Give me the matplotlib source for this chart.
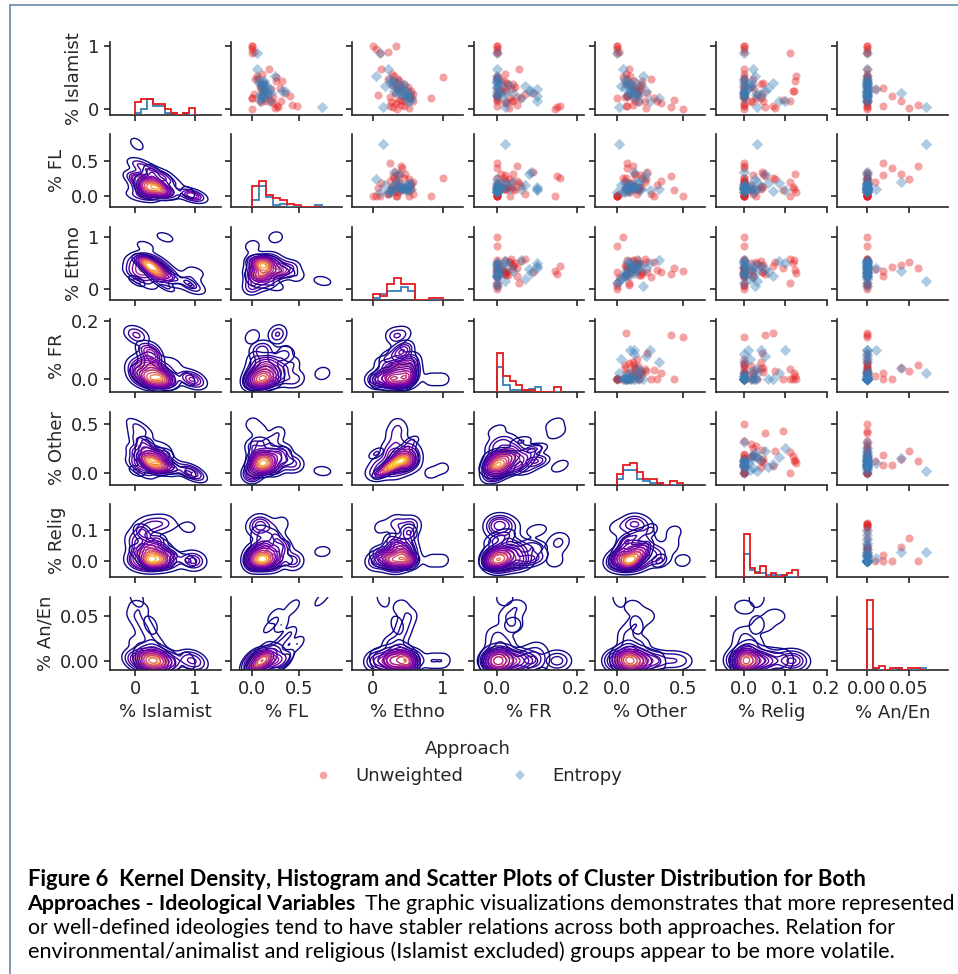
import numpy as np
import matplotlib
matplotlib.use("Agg")
import matplotlib.pyplot as plt
import seaborn as sns
from matplotlib.lines import Line2D

# ---------------- data (cluster shares per ideology) ----------------
variables = ["% Islamist", "% FL", "% Ethno", "% FR", "% Other", "% Relig", "% An/En"]
approaches = ["Unweighted", "Entropy"]

# Unweighted approach (46 clusters)
unw_islamist = [1.00, 1.00, 0.95, 0.91, 0.89, 0.50, 0.17, 0.31, 0.33, 0.20, 0.13, 0.05, 0.02, 0.07, 0.12, 0.27,
                0.22, 0.09, 0.36, 0.18, 0.04, 0.03, 0.00, 0.52, 0.29, 0.28, 0.13, 0.15, 0.45, 0.42, 0.47, 0.40,
                0.44, 0.48, 0.56, 0.63, 0.35, 0.38, 0.24, 0.26, 0.21, 0.17, 0.19, 0.11, 0.23, 0.32]
unw_fl = [0.00, 0.00, 0.00, 0.02, 0.00, 0.25, 0.00, 0.20, 0.30, 0.40, 0.31, 0.48, 0.24, 0.43, 0.15, 0.12,
          0.10, 0.22, 0.09, 0.14, 0.26, 0.28, 0.00, 0.05, 0.10, 0.12, 0.20, 0.08, 0.32, 0.13, 0.06, 0.09,
          0.25, 0.03, 0.10, 0.18, 0.08, 0.12, 0.02, 0.35, 0.17, 0.00, 0.22, 0.09, 0.11, 0.13]
unw_ethno = [0.00, 0.33, 0.05, 0.22, 0.11, 1.00, 0.83, 0.38, 0.35, 0.42, 0.46, 0.25, 0.52, 0.40, 0.36, 0.44,
             0.48, 0.33, 0.41, 0.53, 0.45, 0.29, 0.35, 0.30, 0.55, 0.50, 0.58, 0.40, 0.37, 0.33, 0.36, 0.45,
             0.31, 0.22, 0.28, 0.12, 0.50, 0.27, 0.58, 0.32, 0.55, 0.52, 0.24, 0.26, 0.08, 0.38]
unw_fr = [0.000, 0.000, 0.000, 0.000, 0.000, 0.000, 0.000, 0.010, 0.020, 0.000, 0.040, 0.000, 0.030, 0.050,
          0.000, 0.010, 0.000, 0.020, 0.000, 0.060, 0.158, 0.150, 0.145, 0.000, 0.020, 0.000, 0.035, 0.000,
          0.010, 0.025, 0.000, 0.040, 0.018, 0.000, 0.020, 0.055, 0.045, 0.028, 0.070, 0.090, 0.000, 0.033,
          0.050, 0.022, 0.000, 0.038]
unw_other = [0.00, 0.00, 0.00, 0.02, 0.00, 0.05, 0.00, 0.12, 0.18, 0.08, 0.14, 0.08, 0.22, 0.12, 0.30, 0.15,
             0.16, 0.33, 0.10, 0.12, 0.07, 0.41, 0.50, 0.10, 0.12, 0.17, 0.21, 0.43, 0.13, 0.11, 0.08, 0.06,
             0.19, 0.26, 0.07, 0.09, 0.16, 0.18, 0.15, 0.23, 0.08, 0.28, 0.06, 0.17, 0.09, 0.14]
unw_relig = [0.000, 0.000, 0.000, 0.000, 0.110, 0.000, 0.000, 0.000, 0.020, 0.000, 0.045, 0.000, 0.075, 0.000,
             0.015, 0.000, 0.030, 0.000, 0.000, 0.040, 0.070, 0.049, 0.000, 0.125, 0.120, 0.118, 0.110, 0.095,
             0.122, 0.045, 0.000, 0.040, 0.000, 0.020, 0.000, 0.000, 0.015, 0.000, 0.000, 0.042, 0.000, 0.028,
             0.000, 0.018, 0.000, 0.000]
unw_anen = [0.000, 0.000, 0.000, 0.000, 0.000, 0.000, 0.000, 0.010, 0.019, 0.030, 0.040, 0.019, 0.050, 0.060,
            0.000, 0.000, 0.000, 0.000, 0.000, 0.000, 0.000, 0.000, 0.000, 0.000, 0.000, 0.000, 0.000, 0.000,
            0.000, 0.000, 0.000, 0.000, 0.000, 0.000, 0.000, 0.000, 0.000, 0.000, 0.000, 0.000, 0.000, 0.000,
            0.000, 0.000, 0.000, 0.000]

# Entropy approach (26 clusters)
ent_islamist = [0.03, 0.89, 0.63, 0.31, 0.20, 0.26, 0.13, 0.28, 0.35, 0.40, 0.43, 0.25, 0.22, 0.45, 0.38, 0.27,
                0.18, 0.33, 0.24, 0.41, 0.29, 0.12, 0.21, 0.36, 0.48, 0.52]
ent_fl = [0.75, 0.05, 0.05, 0.10, 0.12, 0.20, 0.08, 0.32, 0.13, 0.09, 0.11, 0.17, 0.08, 0.12, 0.10, 0.16,
          0.09, 0.18, 0.11, 0.07, 0.35, 0.19, 0.10, 0.15, 0.06, 0.24]
ent_ethno = [0.15, 0.11, 0.22, 0.40, 0.45, 0.35, 0.50, 0.38, 0.42, 0.30, 0.36, 0.52, 0.47, 0.28, 0.44, 0.49,
             0.55, 0.33, 0.41, 0.25, 0.31, 0.53, 0.51, 0.18, 0.24, 0.05]
ent_fr = [0.020, 0.000, 0.000, 0.100, 0.100, 0.040, 0.100, 0.080, 0.000, 0.010, 0.000, 0.020, 0.000, 0.000,
          0.030, 0.000, 0.060, 0.000, 0.010, 0.000, 0.085, 0.020, 0.000, 0.070, 0.000, 0.000]
ent_other = [0.02, 0.00, 0.05, 0.10, 0.13, 0.15, 0.25, 0.22, 0.12, 0.08, 0.14, 0.09, 0.17, 0.07, 0.18, 0.11,
             0.32, 0.06, 0.12, 0.09, 0.13, 0.16, 0.08, 0.03, 0.06, 0.20]
ent_relig = [0.030, 0.000, 0.020, 0.010, 0.040, 0.030, 0.100, 0.050, 0.000, 0.000, 0.015, 0.000, 0.028, 0.000,
             0.018, 0.000, 0.000, 0.058, 0.000, 0.070, 0.000, 0.085, 0.000, 0.013, 0.000, 0.025]
ent_anen = [0.070, 0.000, 0.000, 0.011, 0.000, 0.040, 0.000, 0.000, 0.000, 0.000, 0.000, 0.000, 0.000, 0.000,
            0.000, 0.000, 0.000, 0.000, 0.000, 0.000, 0.000, 0.000, 0.000, 0.000, 0.000, 0.000]

axis_ticks = [[0, 1], [0.0, 0.5], [0, 1], [0.0, 0.2], [0.0, 0.5], [0.0, 0.1, 0.2], [0.00, 0.05]]
axis_ticklabels = [["0", "1"], ["0.0", "0.5"], ["0", "1"], ["0.0", "0.2"], ["0.0", "0.5"],
                   ["0.0", "0.1", "0.2"], ["0.00", "0.05"]]

# ---------------- style / layout ----------------
series = {
    "Unweighted": [np.asarray(v, float) for v in
                   (unw_islamist, unw_fl, unw_ethno, unw_fr, unw_other, unw_relig, unw_anen)],
    "Entropy": [np.asarray(v, float) for v in
                (ent_islamist, ent_fl, ent_ethno, ent_fr, ent_other, ent_relig, ent_anen)],
}
colors = {"Unweighted": "#e41a1c", "Entropy": "#377eb8"}
markers = {"Unweighted": "o", "Entropy": "D"}

xlims = [(-0.417, 1.427), (-0.226, 0.958), (-0.29, 1.29), (-0.058, 0.219),
         (-0.164, 0.666), (-0.069, 0.2), (-0.0349, 0.0958)]
ylims = [(-0.092, 1.063), (-0.168, 0.89), (-0.214, 1.202), (-0.0437, 0.2046),
         (-0.118, 0.624), (-0.0539, 0.1857), (-0.0098, 0.0716)]
bin_edges = [np.linspace(0, 1, 11), np.linspace(0, 0.75, 11), np.linspace(0, 1, 11),
             np.linspace(0, 0.16, 11), np.linspace(0, 0.5, 11), np.linspace(0, 0.13, 11),
             np.linspace(0, 0.07, 11)]
BW_ADJUST = 0.85
N_LEVELS = 10
THRESH = 0.05
GRID = 160


def kde2d(x, y, bw_adjust):
    """Gaussian KDE (Scott factor, full covariance, cut=3), like seaborn's kdeplot."""
    n = len(x)
    factor = n ** (-1.0 / 6.0) * bw_adjust
    cov = np.cov(np.vstack([x, y])) * factor ** 2
    inv = np.linalg.inv(cov)
    sx, sy = np.sqrt(cov[0, 0]), np.sqrt(cov[1, 1])
    gx = np.linspace(x.min() - 3 * sx, x.max() + 3 * sx, GRID)
    gy = np.linspace(y.min() - 3 * sy, y.max() + 3 * sy, GRID)
    xx, yy = np.meshgrid(gx, gy)
    dx = xx[..., None] - x[None, None, :]
    dy = yy[..., None] - y[None, None, :]
    q = inv[0, 0] * dx * dx + 2 * inv[0, 1] * dx * dy + inv[1, 1] * dy * dy
    dens = np.exp(-0.5 * q).sum(axis=-1) / (n * 2 * np.pi * np.sqrt(np.linalg.det(cov)))
    return xx, yy, dens


def quantile_to_level(arrs, isoprop):
    values = np.concatenate([np.ravel(a) for a in arrs])
    sv = np.sort(values)[::-1]
    norm = np.cumsum(sv) / values.sum()
    idx = np.searchsorted(norm, 1 - np.asarray(isoprop))
    return np.take(sv, idx, mode="clip")


sns.set_style("ticks")
plt.rcParams["font.family"] = ["DejaVu Sans"]
plt.rcParams["font.size"] = 13
ink = "#262626"

W, H = 958, 974
fig = plt.figure(figsize=(W / 100, H / 100), dpi=100)
left0, pitch_x, aw = 110.0, 121.2, 110.6
top0, pitch_y, ah = 42.0, 92.45, 72.8
nv = len(variables)
n_total = sum(len(series[a][0]) for a in approaches)

for i in range(nv):
    for j in range(nv):
        ax = fig.add_axes([(left0 + j * pitch_x) / W, 1 - (top0 + i * pitch_y + ah) / H, aw / W, ah / H])
        if j > i:
            for a in approaches:
                ax.scatter(series[a][j], series[a][i], s=34, marker=markers[a], color=colors[a],
                           alpha=0.4, linewidths=0, zorder=3)
        elif j < i:
            res = {}
            for a in approaches:
                xx, yy, d = kde2d(series[a][j], series[a][i], BW_ADJUST)
                res[a] = (xx, yy, d * len(series[a][0]) / n_total)   # common_norm
            lev = quantile_to_level([res[a][2] for a in approaches], np.linspace(THRESH, 1, N_LEVELS))
            lev = np.unique(lev)
            for a in approaches:
                xx, yy, d = res[a]
                ax.contour(xx, yy, d, levels=lev, cmap="plasma", vmin=lev.min(), vmax=lev.max(),
                           linewidths=1.0)
        else:
            ax2 = ax.twinx()
            for a in ["Entropy", "Unweighted"]:
                ax2.hist(series[a][i], bins=bin_edges[i], histtype="step", color=colors[a], linewidth=1.3)
            ax2.set_ylim(0, 41)
            ax2.set_yticks([])
            for s in ax2.spines.values():
                s.set_visible(False)
        ax.set_xlim(xlims[j])
        ax.set_ylim(ylims[i])
        ax.set_xticks(axis_ticks[j])
        ax.set_yticks([t for t in axis_ticks[i] if t <= ylims[i][1]])
        ax.spines["top"].set_visible(False)
        ax.spines["right"].set_visible(False)
        for s in ("left", "bottom"):
            ax.spines[s].set_color(ink)
            ax.spines[s].set_linewidth(1.2)
        ax.tick_params(length=4, width=1.2, color=ink, labelcolor=ink, labelsize=13, pad=3.5)
        if i == nv - 1:
            ax.set_xticklabels(axis_ticklabels[j])
            ax.set_xlabel(variables[j], fontsize=13, color=ink)
        else:
            ax.set_xticklabels([])
        if j == 0:
            ax.set_yticklabels([l for t, l in zip(axis_ticks[i], axis_ticklabels[i]) if t <= ylims[i][1]])
            ax.set_ylabel(variables[i], fontsize=13, color=ink)
        else:
            ax.set_yticklabels([])

# legend
handles = [Line2D([], [], linestyle="none", marker=markers[a], markersize=5.5, markerfacecolor=colors[a],
                  markeredgewidth=0, alpha=0.4) for a in approaches]
leg = fig.legend(handles, approaches, loc="upper center", bbox_to_anchor=(468 / W, 1 - 724 / H), ncol=2,
                 frameon=False, title="Approach", fontsize=13, title_fontsize=13,
                 handlelength=1.0, handletextpad=1.3, columnspacing=2.6)
for t in leg.get_texts():
    t.set_color(ink)
leg.get_title().set_color(ink)

# figure frame
frame_c = "#6d87ad"
fig.add_artist(Line2D([9.5 / W, 9.5 / W], [0, 1 - 5 / H], transform=fig.transFigure, color=frame_c, lw=1.2))
fig.add_artist(Line2D([9.5 / W, 1], [1 - 5 / H, 1 - 5 / H], transform=fig.transFigure, color=frame_c, lw=1.2))

# caption
cap_font = ["Lato", "DejaVu Sans"]
fig.canvas.draw()
r = fig.canvas.get_renderer()
x0 = 27.5


def fitted(txt, x, base, target, weight):
    t = fig.text(x / W, 1 - base / H, txt, fontsize=13, fontweight=weight, family=cap_font,
                 va="baseline", ha="left", color="black")
    w = t.get_window_extent(r).width
    t.set_fontsize(13 * target / w)
    return t


line1 = "Figure 6  Kernel Density, Histogram and Scatter Plots of Cluster Distribution for Both"
line2b = "Approaches - Ideological Variables"
line2n = "The graphic visualizations demonstrates that more represented"
line3 = "or well-defined ideologies tend to have stabler relations across both approaches. Relation for"
line4 = "environmental/animalist and religious (Islamist excluded) groups appear to be more volatile."
fitted(line1, x0, 886, 839, "bold")
fitted(line2b, x0, 910, 328.7, "bold")
fitted(line2n, 365.4, 910, 586, "normal")
fitted(line3, x0, 934, 866, "normal")
fitted(line4, x0, 958, 866, "normal")

fig.savefig("out.png", dpi=100)
